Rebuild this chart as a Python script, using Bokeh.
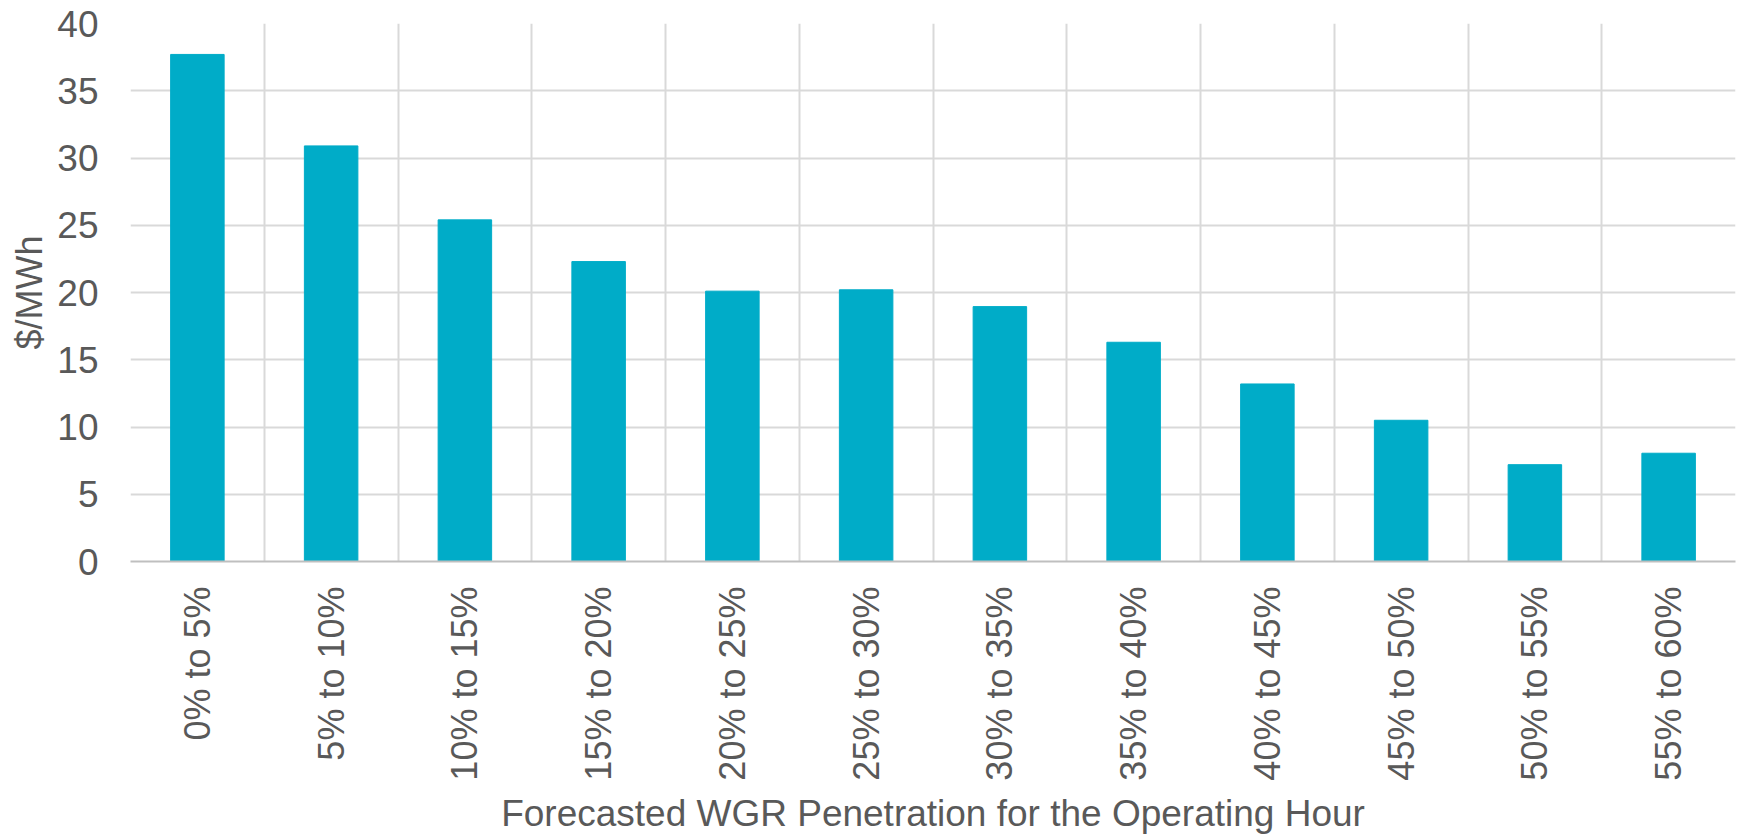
from bokeh.plotting import figure
from bokeh.models import FactorRange, Range1d, FixedTicker
from bokeh.embed import file_html
from bokeh.resources import INLINE
import math

categories = ["0% to 5%", "5% to 10%", "10% to 15%", "15% to 20%", "20% to 25%",
              "25% to 30%", "30% to 35%", "35% to 40%", "40% to 45%", "45% to 50%",
              "50% to 55%", "55% to 60%"]
values = [37.7, 30.9, 25.4, 22.3, 20.1, 20.2, 18.95, 16.3, 13.2, 10.5, 7.2, 8.05]
y_ticks = [0, 5, 10, 15, 20, 25, 30, 35, 40]

FONT = "Liberation Sans"
TXT = "#595959"
GRID = "#D9D9D9"
BAR = "#00ACC8"

p = figure(x_range=FactorRange(*categories), y_range=Range1d(0, 40),
           width=1741, height=836, output_backend="svg", toolbar_location=None,
           min_border_left=130, min_border_top=23, min_border_right=6, min_border_bottom=0)
p.outline_line_color = None

p.vbar(x=categories, top=values, width=0.4, color=BAR)

# grid
p.xgrid.ticker = FixedTicker(ticks=list(range(len(categories) + 1)))
p.xgrid.grid_line_color = GRID
p.xgrid.grid_line_width = 2
p.ygrid.ticker = FixedTicker(ticks=y_ticks)
p.ygrid.grid_line_color = GRID
p.ygrid.grid_line_width = 2

# y axis
p.yaxis.ticker = FixedTicker(ticks=y_ticks)
p.yaxis.axis_line_color = None
p.yaxis.major_tick_line_color = None
p.yaxis.minor_tick_line_color = None
p.yaxis.major_tick_out = 0
p.yaxis.major_label_standoff = 32
p.yaxis.major_label_text_font = FONT
p.yaxis.major_label_text_font_size = "37px"
p.yaxis.major_label_text_color = TXT
p.yaxis.axis_label = "$/MWh"
p.yaxis.axis_label_text_font = FONT
p.yaxis.axis_label_text_font_size = "36px"
p.yaxis.axis_label_text_font_style = "normal"
p.yaxis.axis_label_text_color = TXT
p.yaxis.axis_label_standoff = 4

# x axis
p.xaxis.axis_line_color = "#BFBFBF"
p.xaxis.axis_line_width = 2
p.xaxis.major_tick_line_color = None
p.xaxis.major_tick_out = 0
p.xaxis.major_label_orientation = math.pi / 2
p.xaxis.major_label_standoff = 25
p.xaxis.major_label_text_font = FONT
p.xaxis.major_label_text_font_size = "36px"
p.xaxis.major_label_text_color = TXT
p.xaxis.axis_label = "Forecasted WGR Penetration for the Operating Hour"
p.xaxis.axis_label_text_font = FONT
p.xaxis.axis_label_text_font_size = "37px"
p.xaxis.axis_label_text_font_style = "normal"
p.xaxis.axis_label_text_color = TXT
p.xaxis.axis_label_standoff = 9

open("out.html", "w").write(file_html(p, INLINE))
